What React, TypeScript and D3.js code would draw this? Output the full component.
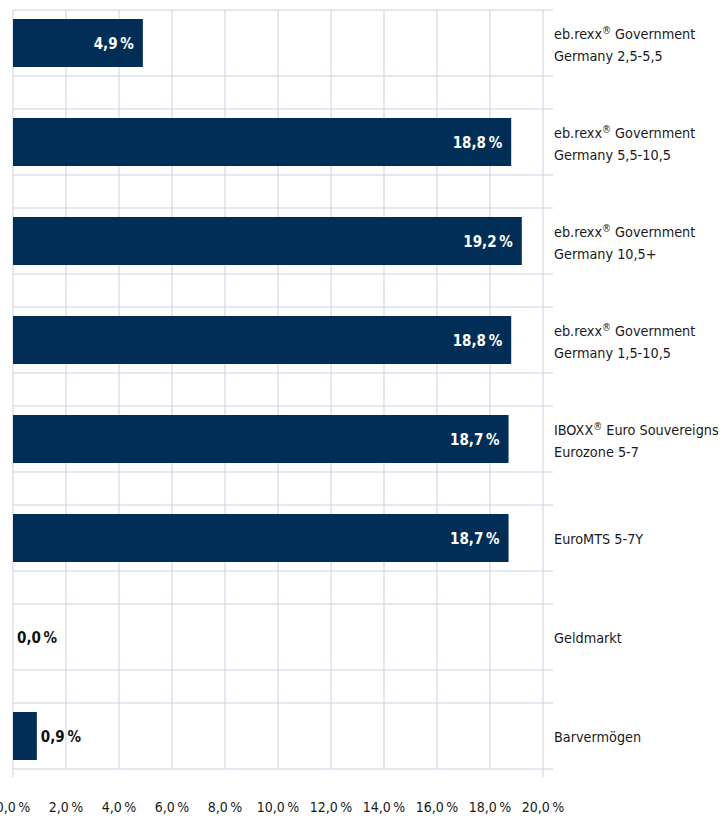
import React from 'react';
import * as d3 from 'd3';

// category labels (line by line), values in %
const labelLines: string[][] = [
  ['eb.rexx® Government', 'Germany 2,5-5,5'],
  ['eb.rexx® Government', 'Germany 5,5-10,5'],
  ['eb.rexx® Government', 'Germany 10,5+'],
  ['eb.rexx® Government', 'Germany 1,5-10,5'],
  ['IBOXX® Euro Souvereigns', 'Eurozone 5-7'],
  ['EuroMTS 5-7Y'],
  ['Geldmarkt'],
  ['Barvermögen'],
];
const values = [4.9, 18.8, 19.2, 18.8, 18.7, 18.7, 0.0, 0.9];
const xTicks = [0, 2, 4, 6, 8, 10, 12, 14, 16, 18, 20];

const W = 724;
const H = 816;
const FONT = "'DejaVu Sans Condensed', 'Liberation Sans Narrow', sans-serif";
const GRID = '#cdd1e2';
const BAR = '#002e57';

const fmt = (v: number) => `${v.toFixed(1).replace('.', ',')}\u2009%`;

// renders a label line, putting ® as superscript
const LabelLine: React.FC<{ text: string; x: number; y: number }> = ({ text, x, y }) => {
  const parts = text.split('®');
  return (
    <text x={x} y={y} fontSize={14.3} fill="#1a1a1a" fontFamily={FONT}>
      {parts.map((p, i) => (
        <React.Fragment key={i}>
          {i > 0 && (
            <tspan fontSize={10} dy={-5}>
              ®
            </tspan>
          )}
          {i > 0 ? <tspan dy={5}>{p}</tspan> : p}
        </React.Fragment>
      ))}
    </text>
  );
};

export default function App() {
  const x = d3.scaleLinear().domain([0, 20]).range([13, 543]);
  const y = d3
    .scaleBand<number>()
    .domain(values.map((_, i) => i))
    .range([10, 769])
    .paddingInner(1 / 3)
    .paddingOuter(0);
  const bw = y.bandwidth();
  const barH = 48;

  return (
    <svg
      width={W}
      height={H}
      style={{ position: 'absolute', left: 0, top: 0, background: '#fff' }}
    >
      {/* vertical grid */}
      {xTicks.map((t) => (
        <line
          key={'v' + t}
          x1={x(t)}
          x2={x(t)}
          y1={10}
          y2={t === 0 || t === 20 ? 777 : 769}
          stroke={GRID}
          strokeWidth={1}
        />
      ))}
      {/* horizontal grid: band edges */}
      {values.map((_, i) => (
        <g key={'h' + i}>
          <line x1={x(0)} x2={553} y1={y(i)!} y2={y(i)!} stroke={GRID} />
          <line x1={x(0)} x2={553} y1={y(i)! + bw} y2={y(i)! + bw} stroke={GRID} />
        </g>
      ))}
      {/* bars */}
      {values.map((v, i) => {
        const cy = y(i)! + bw / 2;
        const inside = v >= 2;
        return (
          <g key={'b' + i}>
            {v > 0 && (
              <rect x={x(0)} y={cy - barH / 2} width={x(v) - x(0)} height={barH} fill={BAR} />
            )}
            <text
              x={inside ? x(v) - 9 : x(v) + 4}
              y={cy + 5.5}
              textAnchor={inside ? 'end' : 'start'}
              fontSize={15}
              fontWeight="bold"
              fill={inside ? '#fff' : '#111'}
              fontFamily={FONT}
            >
              {fmt(v)}
            </text>
          </g>
        );
      })}
      {/* category labels */}
      {labelLines.map((lines, i) => {
        const cy = y(i)! + bw / 2;
        const start = lines.length === 1 ? cy + 6 : cy - 4;
        return lines.map((l, j) => (
          <LabelLine key={`l${i}-${j}`} text={l} x={554} y={start + j * 22} />
        ));
      })}
      {/* x tick labels */}
      {xTicks.map((t) => (
        <text
          key={'t' + t}
          x={x(t)}
          y={812}
          textAnchor="middle"
          fontSize={14}
          fill="#1a1a1a"
          fontFamily={FONT}
        >
          {fmt(t)}
        </text>
      ))}
    </svg>
  );
}
